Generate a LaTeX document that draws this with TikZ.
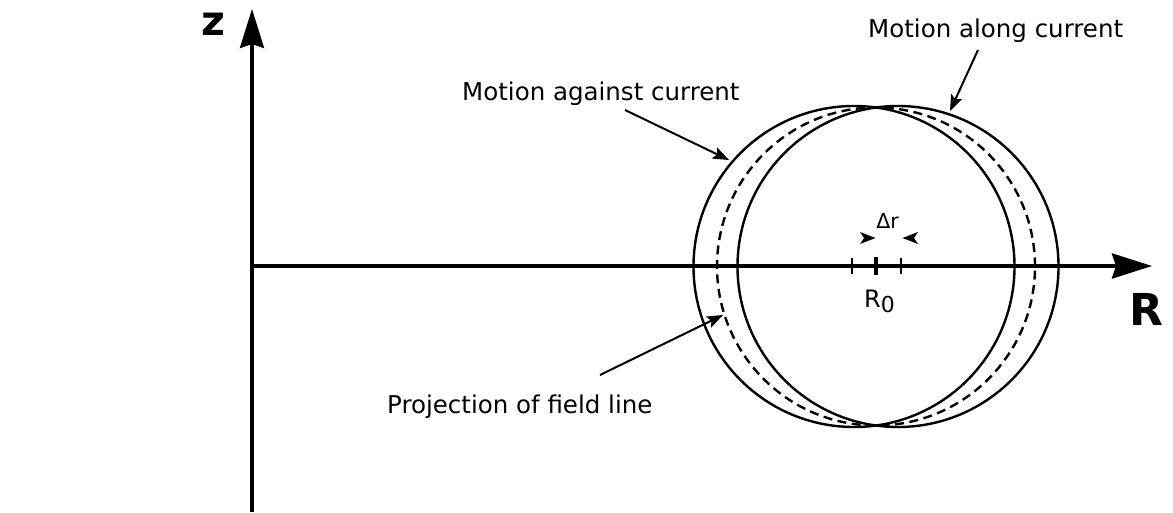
\documentclass[tikz,border=0pt]{standalone}
\usepackage{fontspec}
\setmainfont{DejaVu Sans}
\usetikzlibrary{arrows.meta}
\begin{document}
\begin{tikzpicture}[x=1pt,y=-1pt,
  zaxis/.style={line width=3.4pt,-{Stealth[length=39pt,width=24pt,inset=4pt]}},
  raxis/.style={line width=4pt,-{Stealth[length=40pt,width=25pt,inset=4pt]}},
  curve/.style={line width=2.4pt},
  fieldline/.style={line width=2.4pt, dash pattern=on 9pt off 5.5pt},
  pointer/.style={line width=2pt,-{Stealth[length=16pt,width=12pt,inset=3pt]}},
  tick/.style={line width=2.2pt},
  maintick/.style={line width=4pt},
  lab/.style={inner sep=0pt, anchor=base west, font=\fontsize{24.5}{28}\selectfont},
  axlab/.style={inner sep=0pt, anchor=base west}
]
\useasboundingbox (0,0) rectangle (1173,512);
\fill[white] (0,0) rectangle (1173,512);

% field-line circles
\draw[curve] (854,266.5) circle[radius=160.5pt];
\draw[curve] (898,266.5) circle[radius=160.5pt];
\draw[fieldline] (876,266.5) circle[radius=159pt];

% axes
\coordinate (zbot) at (252,512);
\coordinate (ztop) at (252,9);
\coordinate (O) at (252,266);
\coordinate (rtip) at (1152,266);
\draw[zaxis] (zbot) -- (ztop);
\draw[raxis] (O) -- (rtip);

\node[axlab, font=\fontsize{41}{44}\selectfont\bfseries] (zlab) at (201,35) {z};
\node[axlab, font=\fontsize{44}{48}\selectfont\bfseries] (Rlab) at (1129,325) {R};

% ticks
\draw[tick] (852,258) -- (852,274);
\draw[maintick] (876,257) -- (876,275);
\draw[tick] (901,258) -- (901,274);

% delta r markers
\fill (875.5,238) -- (860,232) -- (864,238) -- (860,244) -- cycle;
\fill (902.5,238) -- (918,232) -- (914,238) -- (918,244) -- cycle;
\node[inner sep=0pt, anchor=base, font=\fontsize{20.5}{22}\selectfont] (dr) at (887.5,228.5) {Δr};
\node[inner sep=0pt, anchor=base west, font=\fontsize{24}{26}\selectfont] (r0) at (864,307) {R\raisebox{-5pt}{\fontsize{22}{23}\selectfont 0}};

% labels and pointers
\node[lab] (against) at (462,100) {Motion against current};
\node[lab] (along) at (868,37) {Motion along current};
\node[lab] (proj) at (387,413) {Projection of field line};

\coordinate (againstS) at (625,110);
\coordinate (againstT) at (729,160);
\coordinate (alongS) at (978,50);
\coordinate (alongT) at (950,111);
\coordinate (projS) at (600,375);
\coordinate (projT) at (723,315);
\draw[pointer] (againstS) -- (againstT);
\draw[pointer] (alongS) -- (alongT);
\draw[pointer] (projS) -- (projT);
\end{tikzpicture}
\end{document}
